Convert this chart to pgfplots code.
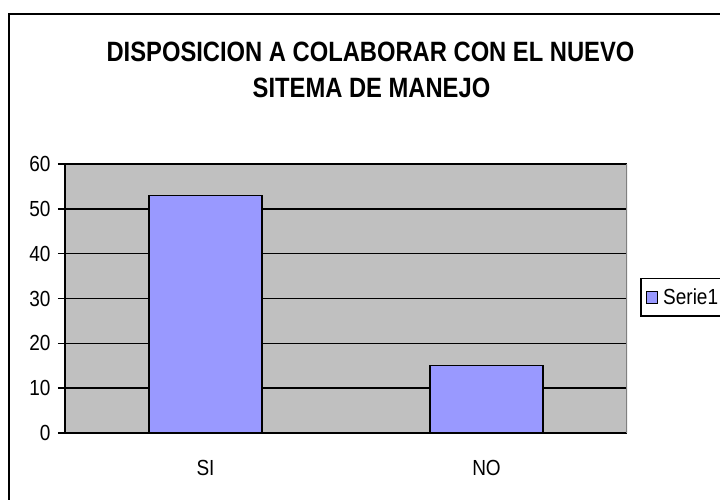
\documentclass[border=0pt]{standalone}
\usepackage{pgfplots}
\pgfplotsset{compat=1.18}
\usepackage{fontspec}
\setmainfont{Liberation Sans}
\usepackage{graphicx}
\definecolor{plotgray}{HTML}{C0C0C0}
\definecolor{barblue}{HTML}{9999FF}
\begin{document}
\begin{tikzpicture}[x=1pt,y=1pt]
\useasboundingbox (0,0) rectangle (720,499);
\draw[line width=1.5pt] (9,-10) -- (9,485) -- (740,485);
\node[anchor=base, inner sep=0pt, font=\fontsize{23.75}{28}\selectfont\bfseries] at (370.5,437.3) {\scalebox{1}[1.176]{DISPOSICION A COLABORAR CON EL NUEVO}};
\node[anchor=base, inner sep=0pt, font=\fontsize{23.75}{28}\selectfont\bfseries] at (371.5,401) {\scalebox{1}[1.176]{SITEMA DE MANEJO}};
\begin{axis}[
  at={(65pt,66pt)}, anchor=south west,
  scale only axis, width=562pt, height=269pt,
  xmin=-0.5, xmax=1.5, ymin=0, ymax=60,
  ytick={0,10,...,60},
  xtick={0,1},
  xticklabels={\scalebox{1}[1.15]{SI},\scalebox{1}[1.15]{NO}},
  yticklabel={\scalebox{1}[1.15]{\pgfmathprintnumber{\tick}}},
  /pgf/number format/assume math mode=true,
  extra x ticks={-0.5,0.5,1.5},
  extra x tick labels={},
  extra x tick style={major tick length=8pt, tick style={black, line width=1.5pt}},
  major x tick style={draw=none},
  axis background/.style={fill=plotgray},
  axis x line*=bottom, axis y line*=left,
  axis line style={-, black, line width=1.5pt},
  ymajorgrids, grid style={black, line width=1.6pt},
  tick style={black, line width=1.5pt},
  tick align=outside,
  major tick length=7pt,
  tick label style={font=\fontsize{19}{22}\selectfont},
  yticklabel style={xshift=-4pt},
  xticklabel style={anchor=base, yshift=-35pt},
  legend style={at={(1.024,0.576)}, anchor=north west, draw=black, line width=1.2pt,
    font=\fontsize{19}{22}\selectfont, inner xsep=5pt, inner ysep=8pt, column sep=3pt},
  legend image code/.code={\draw[fill=barblue,draw=black,line width=1.1pt] (0pt,-6pt) rectangle (11pt,6pt);},
]
\addplot[ybar, bar width=113pt, fill=barblue, draw=black, line width=1.4pt] coordinates {(0,53) (1,15)};
\addlegendentry{\scalebox{1}[1.15]{Serie1}}
\draw[color=gray, line width=1.3pt] (rel axis cs:1,0) -- (rel axis cs:1,1);
\end{axis}
\end{tikzpicture}
\end{document}
